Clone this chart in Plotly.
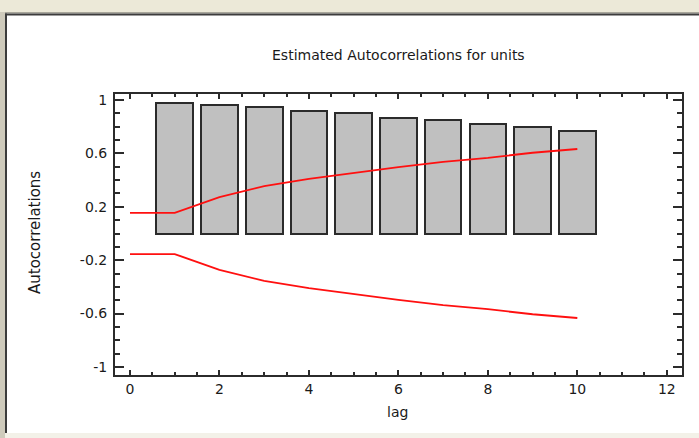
import plotly.graph_objects as go

# ---- data ----
lags = [1, 2, 3, 4, 5, 6, 7, 8, 9, 10]
autocorr = [0.98, 0.965, 0.95, 0.915, 0.90, 0.867, 0.847, 0.82, 0.80, 0.767]
limit_lags = [0, 1, 2, 3, 4, 5, 6, 7, 8, 9, 10]
upper_limit = [0.154, 0.154, 0.272, 0.355, 0.41, 0.455, 0.497, 0.537, 0.567, 0.605, 0.633]
lower_limit = [-v for v in upper_limit]

title_text = "Estimated Autocorrelations for units"
x_title = "lag"
y_title = "Autocorrelations"
x_ticks = [0, 2, 4, 6, 8, 10, 12]
y_ticks = [-1, -0.6, -0.2, 0.2, 0.6, 1]
y_ticklabels = ["-1", "-0.6", "-0.2", "0.2", "0.6", "1"]

W, H = 699, 438
L, R, T, B = 115, 17, 94, 63
PW, PH = W - L - R, H - T - B

def px(x):
    return (x - L) / PW

def py(y):
    return (H - B - y) / PH

FONT = "DejaVu Sans, Verdana, sans-serif"
TXT = "#1a1a1a"

fig = go.Figure()
fig.add_trace(go.Bar(
    x=lags, y=autocorr, width=0.82,
    marker=dict(color="#C0C0C0", line=dict(color="#2b2b2b", width=2)),
    showlegend=False, hoverinfo="x+y",
))
fig.add_trace(go.Scatter(
    x=limit_lags, y=upper_limit, mode="lines",
    line=dict(color="#FF1010", width=1.8), showlegend=False,
))
fig.add_trace(go.Scatter(
    x=limit_lags, y=lower_limit, mode="lines",
    line=dict(color="#FF1010", width=1.8), showlegend=False,
))

axis_common = dict(
    showline=True, linewidth=2, linecolor="#2b2b2b", mirror="allticks",
    ticks="inside", tickcolor="#2b2b2b", showgrid=False, zeroline=False,
    tickfont=dict(family=FONT, size=14, color=TXT),
)

fig.update_xaxes(
    range=[-0.335, 12.34], tickvals=x_ticks, ticklen=5, tickwidth=1.5,
    minor=dict(dtick=0.5, ticks="inside", ticklen=3, tickcolor="#2b2b2b", tickwidth=1.5, showgrid=False),
    **axis_common,
)
fig.update_yaxes(
    range=[-1.06, 1.045], tickvals=y_ticks, ticktext=y_ticklabels, ticklen=9, tickwidth=1.5,
    minor=dict(dtick=0.1, tick0=0, ticks="inside", ticklen=5, tickcolor="#2b2b2b", tickwidth=1.5, showgrid=False),
    ticklabelstandoff=3,
    **axis_common,
)

shapes = [
    # window chrome: top bar
    dict(type="rect", xref="paper", yref="paper", x0=px(0), x1=px(W), y0=py(0), y1=py(12),
         fillcolor="#ECE9D8", line=dict(width=0), layer="above"),
    dict(type="rect", xref="paper", yref="paper", x0=px(0), x1=px(W), y0=py(12), y1=py(13.5),
         fillcolor="#A8A69A", line=dict(width=0), layer="above"),
    dict(type="rect", xref="paper", yref="paper", x0=px(5), x1=px(W), y0=py(13.5), y1=py(15.5),
         fillcolor="#3c3c3c", line=dict(width=0), layer="above"),
    # left border
    dict(type="rect", xref="paper", yref="paper", x0=px(0), x1=px(5), y0=py(12), y1=py(H),
         fillcolor="#CFCBBC", line=dict(width=0), layer="above"),
    dict(type="rect", xref="paper", yref="paper", x0=px(5), x1=px(7), y0=py(13.5), y1=py(433),
         fillcolor="#3c3c3c", line=dict(width=0), layer="above"),
    # bottom strip
    dict(type="rect", xref="paper", yref="paper", x0=px(5), x1=px(W), y0=py(433), y1=py(H),
         fillcolor="#F3F1E8", line=dict(width=0), layer="above"),
]

annotations = [
    dict(text=title_text, xref="paper", yref="paper", x=px(398), y=py(55),
         showarrow=False, font=dict(family=FONT, size=14, color=TXT),
         xanchor="center", yanchor="middle"),
    dict(text=x_title, xref="paper", yref="paper", x=px(397), y=py(412),
         showarrow=False, font=dict(family=FONT, size=14, color=TXT),
         xanchor="center", yanchor="middle"),
    dict(text=y_title, xref="paper", yref="paper", x=px(35), y=py(233),
         showarrow=False, textangle=-90, font=dict(family=FONT, size=15, color=TXT),
         xanchor="center", yanchor="middle"),
]

fig.update_layout(
    width=W, height=H,
    margin=dict(l=L, r=R, t=T, b=B, pad=0),
    paper_bgcolor="white", plot_bgcolor="white",
    shapes=shapes, annotations=annotations,
    bargap=0, showlegend=False,
)

fig.write_html(
    "out.html",
    config={"displayModeBar": False},
    post_script="document.body.style.margin='0';document.body.style.overflow='hidden';",
)
